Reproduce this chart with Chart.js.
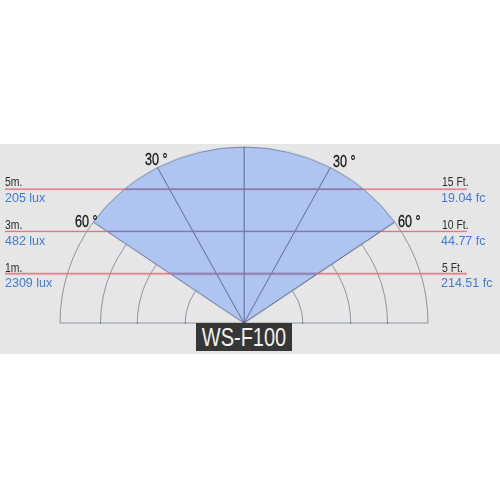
<!DOCTYPE html>
<html lang="fr">
<head>
<meta charset="utf-8">
<title>WS-F100 - diagramme d'éclairement</title>
<script src="https://cdn.jsdelivr.net/npm/chart.js@4"></script>
<style>
  html, body { margin: 0; padding: 0; background: #fff; }
  body { width: 500px; height: 500px; position: relative; overflow: hidden; font-family: "Liberation Sans", Arial, sans-serif; }
  #bande { position: absolute; left: 0; top: 144px; width: 500px; height: 210px; background: #e6e6e6; }
  #cadre { position: absolute; left: 0; top: 0; width: 500px; height: 324px; overflow: hidden; }
  #rose { position: absolute; left: 0; top: 79px; transform: scaleY(0.9565); transform-origin: 244px 244px; }
  .etiq { position: absolute; white-space: nowrap; line-height: 1; transform-origin: left top; }
  /* pas de police étroite installée : on resserre à la main */
  .dist { font-size: 13px; color: #2b2b2b; transform: scaleX(0.8); }
  .val { font-size: 12.5px; color: #3f7bdb; }
  .angle { font-size: 17px; color: #141414; transform: scaleX(0.74); -webkit-text-stroke: 0.3px #141414; }
  #modele { position: absolute; left: 196px; top: 323px; width: 96px; height: 28px; line-height: 28px; background: #363636; color: #f0f0f0;
            font-size: 25px; white-space: nowrap; }
  #modele span { position: absolute; left: 50%; top: 0; transform: translateX(-50%) scaleX(0.8); }
</style>
</head>
<body>
<div id="bande"></div>
<div id="cadre"><canvas id="rose" width="488" height="488"></canvas></div>
<div id="textes"></div>
<div id="modele"><span>WS-F100</span></div>

<script>
// ---- données lues sur le diagramme ----
// secteurs dans le sens horaire depuis la verticale (degrés)
const anglesSecteurs = [28, 27, 35, 90, 90, 35, 27, 28];
const rayonsSecteurs = [5, 5, 5, 0, 0, 5, 5, 5];
const secteursEclaires = [true, true, false, false, false, false, true, true];
// cercles de la grille (même unité que les rayons)
const anneaux = [1.6, 2.9, 3.9, 5];
// hauteurs des lignes rouges (même unité)
const niveaux = [3.8, 2.6, 1.4];
const distancesMetres = ["5m.", "3m.", "1m."];
const eclairementsLux = ["205 lux", "482 lux", "2309 lux"];
const distancesPieds = ["15 Ft.", "10 Ft.", "5 Ft."];
const eclairementsFc = ["19.04 fc", "44.77 fc", "214.51 fc"];
const etiquettesAngles = ["30 °", "30 °", "60 °", "60 °"];

const bleu = "#aec5f2";
const trait = "rgba(40, 45, 80, 0.45)";

// ---- lignes rouges horizontales (rouges sur le gris, violettes dans le faisceau) ----
const lignesRouges = {
  id: "lignesRouges",
  afterDatasetsDraw(chart) {
    const r = chart.scales.r;
    const ctx = chart.ctx;
    const x0 = r.xCenter - 239, x1 = r.xCenter + 223;
    const tracer = couleur => {
      ctx.strokeStyle = couleur;
      ctx.beginPath();
      niveaux.forEach(v => {
        const y = r.yCenter - r.getDistanceFromCenterForValue(v);
        ctx.moveTo(x0, y);
        ctx.lineTo(x1, y);
      });
      ctx.stroke();
    };
    ctx.save();
    ctx.lineWidth = 1.3;
    tracer("#df6474");
    // zone du faisceau bleu
    ctx.beginPath();
    chart.getDatasetMeta(0).data.forEach((arc, i) => {
      if (!secteursEclaires[i]) return;
      ctx.moveTo(arc.x, arc.y);
      ctx.arc(arc.x, arc.y, arc.outerRadius, arc.startAngle, arc.endAngle);
      ctx.closePath();
    });
    ctx.clip();
    tracer("#7674b4");
    ctx.restore();
  }
};

new Chart(document.getElementById("rose"), {
  type: "polarArea",
  data: {
    labels: anglesSecteurs.map((a, i) => "s" + i),
    datasets: [{
      data: rayonsSecteurs,
      angle: anglesSecteurs,
      backgroundColor: secteursEclaires.map(b => b ? bleu : "rgba(0,0,0,0)"),
      borderColor: trait,
      borderWidth: 1
    }]
  },
  options: {
    responsive: false,
    animation: false,
    layout: { padding: 60 },
    plugins: { legend: { display: false }, tooltip: { enabled: false } },
    scales: {
      r: {
        min: 0,
        max: anneaux[anneaux.length - 1],
        z: 1,
        ticks: { display: false },
        // le dernier cercle est tracé par le bord des secteurs
        afterBuildTicks: s => { s.ticks = [0, ...anneaux.slice(0, -1)].map(v => ({ value: v })); },
        grid: { circular: true, color: trait, lineWidth: 1 },
        angleLines: { display: false },
        pointLabels: { display: false }
      }
    }
  },
  plugins: [lignesRouges]
});

// ---- textes ----
const textes = document.getElementById("textes");
function poser(txt, cls, left, top) {
  const d = document.createElement("div");
  d.className = "etiq " + cls;
  d.style.left = left + "px";
  d.style.top = top + "px";
  d.textContent = txt;
  textes.appendChild(d);
}
const hautsDist = [175, 218, 261];
const hautsVal = [191.5, 234.5, 276.5];
distancesMetres.forEach((t, i) => poser(t, "dist", 5, hautsDist[i]));
eclairementsLux.forEach((t, i) => poser(t, "val", 5, hautsVal[i]));
distancesPieds.forEach((t, i) => poser(t, "dist", 442, hautsDist[i]));
eclairementsFc.forEach((t, i) => poser(t, "val", 441, hautsVal[i]));
const posAngles = [[145, 151], [333, 152.5], [75, 212.5], [398, 212.5]];
etiquettesAngles.forEach((t, i) => poser(t, "angle", posAngles[i][0], posAngles[i][1]));
</script>
</body>
</html>
